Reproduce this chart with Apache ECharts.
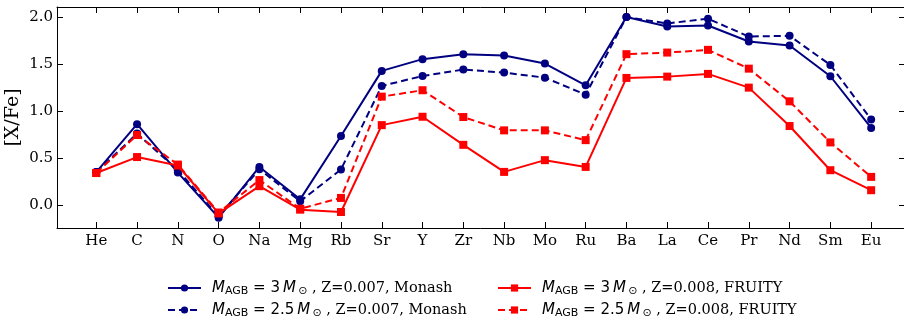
<!DOCTYPE html>
<html>
<head>
<meta charset="utf-8">
<script src="https://cdn.jsdelivr.net/npm/echarts@6/dist/echarts.min.js"></script>
<style>html,body{margin:0;padding:0;background:#fff;}#c{width:904px;height:323px;}</style>
</head>
<body>
<div id="c"></div>
<script>
const categories = ['He','C','N','O','Na','Mg','Rb','Sr','Y','Zr','Nb','Mo','Ru','Ba','La','Ce','Pr','Nd','Sm','Eu'];
const monash3  = [0.35,0.86,0.345,-0.135,0.405,0.06,0.735,1.427,1.552,1.605,1.59,1.505,1.274,2.0,1.90,1.91,1.74,1.697,1.37,0.82];
const monash25 = [0.35,0.76,0.37,-0.12,0.38,0.04,0.378,1.267,1.373,1.441,1.409,1.355,1.174,2.0,1.932,1.982,1.793,1.80,1.49,0.911];
const fruity3  = [0.34,0.51,0.42,-0.09,0.20,-0.05,-0.075,0.85,0.939,0.64,0.352,0.477,0.405,1.352,1.366,1.395,1.249,0.84,0.37,0.157];
const fruity25 = [0.34,0.745,0.43,-0.08,0.265,-0.04,0.075,1.153,1.221,0.936,0.794,0.794,0.69,1.605,1.622,1.651,1.451,1.103,0.666,0.299];
const yTicks = [0, 0.5, 1.0, 1.5, 2.0];
const legendText = {
  m3:  ['3',   'Z=0.007, Monash'],
  m25: ['2.5', 'Z=0.007, Monash'],
  f3:  ['3',   'Z=0.008, FRUITY'],
  f25: ['2.5', 'Z=0.008, FRUITY']
};
const idx = categories.map((_, i) => i);
const toPairs = arr => arr.map((v, i) => [i, v]);

const SERIF = 'DejaVu Serif';
const SANS = 'DejaVu Sans';
const BLUE = '#000080';
const RED = '#ff0000';

function mkSeries(name, data, color, dashed, symbol, size, z) {
  return {
    name, type: 'line', data: toPairs(data), z,
    symbol, symbolSize: size, showSymbol: true,
    itemStyle: { color },
    lineStyle: { color, width: 2, type: dashed ? [7, 4] : 'solid' },
    animation: false
  };
}

const rich = {
  mi0: { fontFamily: SANS, fontStyle: 'italic', fontSize: 15, color: '#000', lineHeight: 18, padding: [0, 0, 0, 6] },
  mi: { fontFamily: SANS, fontStyle: 'italic', fontSize: 15, color: '#000', lineHeight: 18 },
  sub: { fontFamily: SANS, fontSize: 11, color: '#000', lineHeight: 12, verticalAlign: 'bottom', padding: [6, 0, 0, 0] },
  t: { fontFamily: SANS, fontSize: 15, color: '#000', lineHeight: 18 },
  s: { fontFamily: SERIF, fontSize: 14.5, color: '#000', lineHeight: 18 }
};
function legendFmt(n) {
  const p = legendText[n];
  return '{mi0|M}{sub|AGB}{t| = ' + p[0] + '\u2009}{mi|M}{sub|\u2009\u2299}{s| , ' + p[1] + '}';
}
function mkLegend(name, left, top) {
  return {
    data: [name], orient: 'horizontal', left, top,
    itemWidth: 33, itemHeight: 9, itemGap: 5, padding: 0,
    formatter: legendFmt, textStyle: { rich, lineHeight: 18 }, selectedMode: false
  };
}

const axisLineStyle = { show: true, onZero: false, lineStyle: { color: '#000', width: 1 } };

const option = {
  backgroundColor: '#fff',
  animation: false,
  grid: { left: 57, right: -1, top: 7, bottom: 95, containLabel: false, outerBoundsMode: 'none' },
  xAxis: [
    {
      type: 'value', min: -0.963, max: 19.83, position: 'bottom',
      axisLine: axisLineStyle,
      axisTick: { show: true, inside: true, length: 6, customValues: idx, lineStyle: { color: '#000' } },
      axisLabel: { show: true, customValues: idx, formatter: v => categories[Math.round(v)], fontFamily: SERIF, fontSize: 15, color: '#000', margin: 6 },
      splitLine: { show: false }
    },
    {
      type: 'value', min: -0.963, max: 19.83, position: 'top',
      axisLine: axisLineStyle,
      axisTick: { show: true, inside: true, length: 6, customValues: idx, lineStyle: { color: '#000' } },
      axisLabel: { show: false },
      splitLine: { show: false }
    }
  ],
  yAxis: [
    {
      type: 'value', min: -0.245, max: 2.107, position: 'left',
      name: '[X/Fe]', nameLocation: 'middle', nameGap: 34, nameMoveOverlap: false,
      nameTextStyle: { fontFamily: SERIF, fontSize: 19, color: '#000' },
      axisLine: axisLineStyle,
      axisTick: { show: true, inside: true, length: 6, customValues: yTicks, lineStyle: { color: '#000' } },
      axisLabel: { show: true, customValues: yTicks, formatter: v => v.toFixed(1), fontFamily: SERIF, fontSize: 15, color: '#000', margin: 4 },
      splitLine: { show: false }
    },
    {
      type: 'value', min: -0.245, max: 2.107, position: 'right',
      axisLine: axisLineStyle,
      axisTick: { show: true, inside: true, length: 6, customValues: yTicks, lineStyle: { color: '#000' } },
      axisLabel: { show: false },
      splitLine: { show: false }
    }
  ],
  legend: [
    mkLegend('m3', 167, 279),
    mkLegend('m25', 167, 301),
    mkLegend('f3', 497, 279),
    mkLegend('f25', 497, 301)
  ],
  series: [
    mkSeries('m3', monash3, BLUE, false, 'circle', 8, 2),
    mkSeries('m25', monash25, BLUE, true, 'circle', 8, 3),
    mkSeries('f3', fruity3, RED, false, 'rect', 8, 4),
    mkSeries('f25', fruity25, RED, true, 'rect', 8, 5)
  ]
};
const chart = echarts.init(document.getElementById('c'), null, { renderer: 'canvas' });
chart.setOption(option);
</script>
</body>
</html>
